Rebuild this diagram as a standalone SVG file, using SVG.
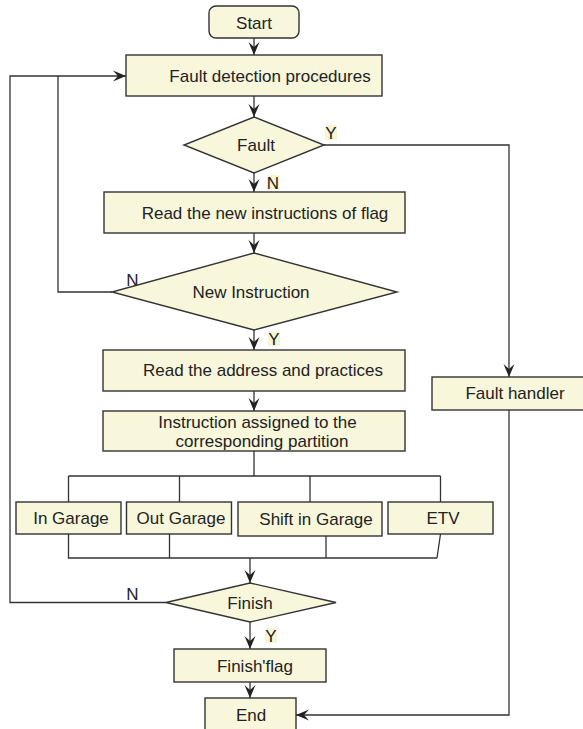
<svg xmlns="http://www.w3.org/2000/svg" width="583" height="729" viewBox="0 0 583 729">
<style>
.n{fill:#f8f7dc;stroke:#333;stroke-width:1.4}
.t{font-family:"Liberation Sans",Arial,sans-serif;font-size:17px;fill:#222;text-anchor:middle}
.c{fill:none;stroke:#333;stroke-width:1.3}
.a{marker-end:url(#ah)}
.lb{fill:#f7f6d4}
</style>
<defs>
<marker id="ah" markerUnits="userSpaceOnUse" markerWidth="16" markerHeight="16" viewBox="-15 -8 16 16" refX="0" refY="0" orient="auto">
<path d="M0,0 L-13,-5.5 L-8,0 L-13,5.5 Z" fill="#222"/>
</marker>
</defs>
<rect width="583" height="729" fill="#fff"/>
<g id="connectors">
<path class="c a" d="M254,38 V55"/>
<path class="c a" d="M254,96 V117"/>
<path class="c a" d="M324,145 H509 V377"/>
<path class="c a" d="M254,173 V192"/>
<path class="c a" d="M254,233 V253"/>
<path class="c" d="M112,292 H58 V76"/>
<path class="c a" d="M166,602.5 H10 V76 H126"/>
<path class="c a" d="M254,330 V350"/>
<path class="c a" d="M254,391 V411"/>
<path class="c" d="M254,451 V476 M68.5,476 H440.5 M68.5,476 V502 M179.5,476 V502 M310,476 V502 M440.5,476 V502"/>
<path class="c" d="M68.5,534 V558 H437 M169.5,534 V558 M326,536 V558 M440.5,534 L437,558"/>
<path class="c a" d="M250,558 V583"/>
<path class="c a" d="M250,622 V649"/>
<path class="c a" d="M250,682 V698"/>
<path class="c a" d="M509,410 V715 H296"/>
<rect class="lb" x="325" y="125" width="12" height="15"/>
<text class="t" x="331" y="139">Y</text>
<rect class="lb" x="267" y="175" width="12" height="15"/>
<text class="t" x="273" y="188.5">N</text>
<text class="t" x="132.5" y="285.5">N</text>
<rect class="lb" x="268" y="331" width="12" height="15"/>
<text class="t" x="274" y="344.5">Y</text>
<text class="t" x="132.5" y="599.5">N</text>
<rect class="lb" x="265" y="628" width="12" height="15"/>
<text class="t" x="271" y="641.5">Y</text>
</g>
<g id="start"><rect class="n" x="209" y="6" width="90" height="32" rx="7"/><text class="t" x="254" y="29">Start</text></g>
<g id="fault-detection"><rect class="n" x="126" y="55" width="256" height="41"/><text class="t" x="270" y="82">Fault detection procedures</text></g>
<g id="fault"><polygon class="n" points="254,117 324,145 254,173 184,145"/><text class="t" x="256" y="151">Fault</text></g>
<g id="read-new"><rect class="n" x="104" y="192" width="301" height="41"/><text class="t" x="265" y="219">Read the new instructions of flag</text></g>
<g id="new-instruction"><polygon class="n" points="254,253 397,292 254,330 112,292"/><text class="t" x="251" y="298">New Instruction</text></g>
<g id="read-address"><rect class="n" x="103" y="350" width="302" height="41"/><text class="t" x="263" y="376">Read the address and practices</text></g>
<g id="assigned"><rect class="n" x="103" y="411" width="302" height="40"/><text class="t" x="257.5" y="428">Instruction assigned to the</text><text class="t" x="262" y="446.5">corresponding partition</text></g>
<g id="in-garage"><rect class="n" x="16" y="502" width="105" height="32"/><text class="t" x="71" y="524">In Garage</text></g>
<g id="out-garage"><rect class="n" x="126.5" y="502" width="105" height="32"/><text class="t" x="181" y="524">Out Garage</text></g>
<g id="shift-garage"><rect class="n" x="238" y="502" width="144" height="34"/><text class="t" x="316" y="525">Shift in Garage</text></g>
<g id="etv"><rect class="n" x="388" y="502" width="105" height="32"/><text class="t" x="443" y="524">ETV</text></g>
<g id="finish"><polygon class="n" points="250,583 336,602.5 250,622 166,602.5"/><text class="t" x="250" y="609">Finish</text></g>
<g id="finish-flag"><rect class="n" x="174" y="649" width="152" height="33"/><text class="t" x="255" y="672">Finish'flag</text></g>
<g id="end"><rect class="n" x="205" y="698" width="91" height="40"/><text class="t" x="251" y="721">End</text></g>
<g id="fault-handler"><rect class="n" x="432" y="377" width="156" height="33"/><text class="t" x="515" y="399">Fault handler</text></g>
</svg>
